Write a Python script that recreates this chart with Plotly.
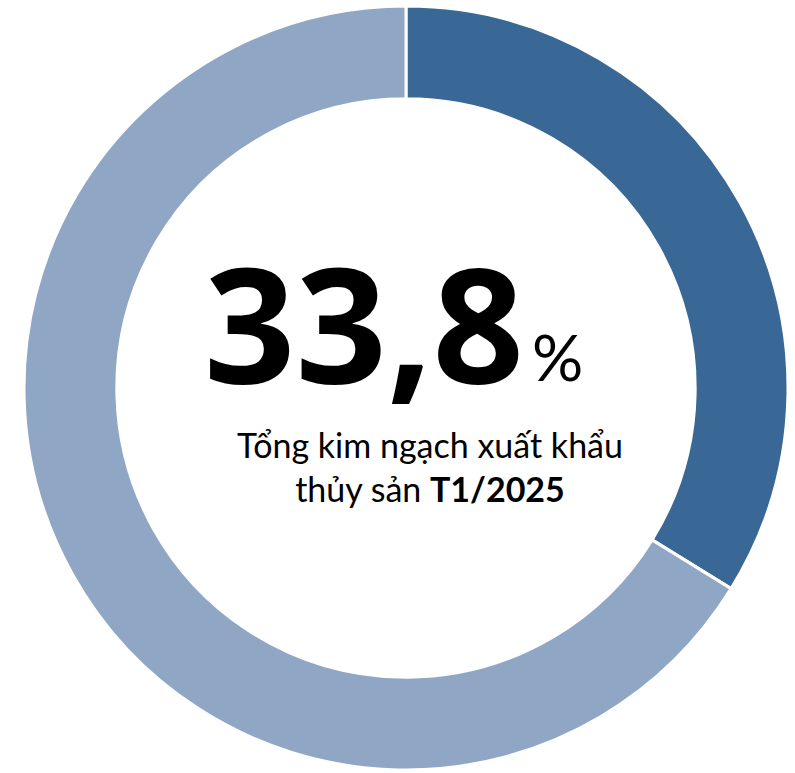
import plotly.graph_objects as go

# Share of total seafood export turnover, January 2025
labels = ["Tỷ trọng", "Còn lại"]
values = [33.8, 66.2]
colors = ["#3A6896", "#8FA6C5"]

W, H = 795, 773
cx, cy, r_out = 406, 388, 382

fig = go.Figure(go.Pie(
    labels=labels,
    values=values,
    hole=0.757,
    sort=False,
    direction="clockwise",
    rotation=0,
    marker=dict(colors=colors, line=dict(color="white", width=3)),
    textinfo="none",
    hoverinfo="label+percent",
    showlegend=False,
    domain=dict(x=[(cx - r_out) / W, (cx + r_out) / W],
                y=[1 - (cy + r_out) / H, 1 - (cy - r_out) / H]),
))

big = str(values[0]).replace(".", ",")

fig.add_annotation(
    x=526 / W, y=1 - 321 / H, xref="paper", yref="paper",
    xanchor="right", yanchor="middle",
    text=f"<b>{big}</b>",
    showarrow=False,
    font=dict(family="Open Sans", size=160, color="black", weight=800),
)
fig.add_annotation(
    x=530 / W, y=1 - 397 / H, xref="paper", yref="paper",
    xanchor="left", yanchor="bottom",
    text="%",
    showarrow=False,
    font=dict(family="Lato", size=64, color="black"),
)
fig.add_annotation(
    x=430 / W, y=1 - 466 / H, xref="paper", yref="paper",
    xanchor="center", yanchor="middle",
    text="Tổng kim ngạch xuất khẩu<br>thủy sản <b>T1/2025</b>",
    showarrow=False,
    font=dict(family="Lato", size=34, color="black"),
)

fig.update_layout(
    width=W, height=H,
    margin=dict(l=0, r=0, t=0, b=0),
    paper_bgcolor="white",
    plot_bgcolor="white",
)

fig.write_html("out.html")
